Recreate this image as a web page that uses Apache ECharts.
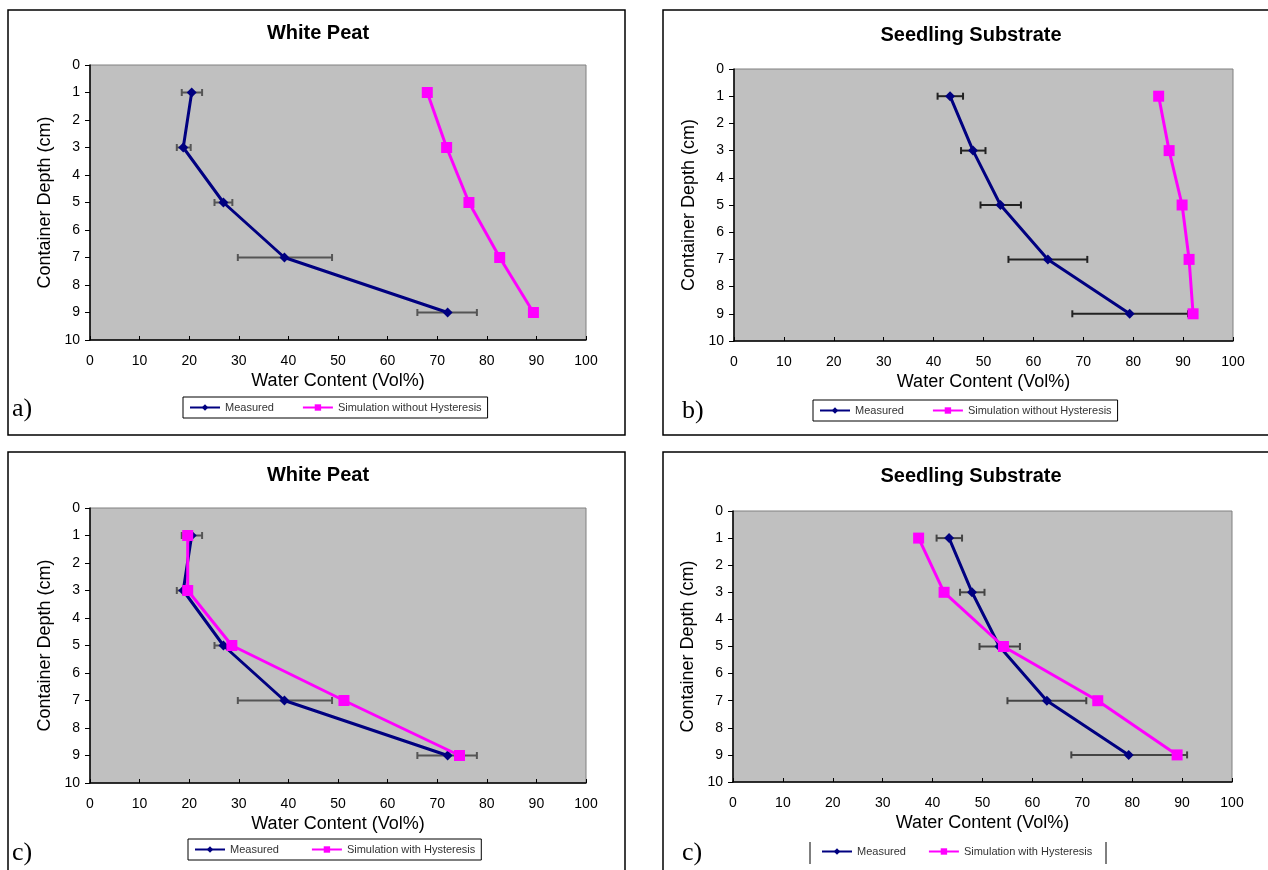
<!DOCTYPE html>
<html>
<head>
<meta charset="utf-8">
<script src="https://cdn.jsdelivr.net/npm/echarts@6/dist/echarts.min.js"></script>
<style>
html,body{margin:0;padding:0;background:#fff;}
#chart{width:1268px;height:870px;}
</style>
</head>
<body>
<div id="chart"></div>
<script>
// ---- data ----
const depths = [1, 3, 5, 7, 9];
const xTicks = [0, 10, 20, 30, 40, 50, 60, 70, 80, 90, 100];
const yTicks = [0, 1, 2, 3, 4, 5, 6, 7, 8, 9, 10];

const peatMeasured = [20.5, 18.8, 26.9, 39.2, 72.1];
const peatErrLow   = [18.5, 17.5, 25.1, 29.8, 66.0];
const peatErrHigh  = [22.6, 20.3, 28.7, 48.8, 78.0];
const peatSimNoHyst = [68.0, 71.9, 76.4, 82.6, 89.4];
const peatSimHyst   = [19.7, 19.7, 28.6, 51.2, 74.5];

const seedMeasured = [43.3, 47.9, 53.4, 62.9, 79.3];
const seedErrLow   = [40.8, 45.5, 49.4, 55.0, 67.8];
const seedErrHigh  = [45.9, 50.4, 57.5, 70.8, 91.0];
const seedSimNoHyst = [85.1, 87.2, 89.8, 91.2, 92.0];
const seedSimHyst   = [37.2, 42.3, 54.2, 73.1, 89.0];

const titles = ['White Peat', 'Seedling Substrate', 'White Peat', 'Seedling Substrate'];
const panelLabels = ['a)', 'b)', 'c)', 'c)'];
const nameMeasured = 'Measured';
const nameNoHyst = 'Simulation without Hysteresis';
const nameHyst = 'Simulation with Hysteresis';
const xName = 'Water Content (Vol%)';
const yName = 'Container Depth (cm)';

// ---- layout ----
const grids = [
  {left: 90, top: 65, width: 496, height: 275},
  {left: 734, top: 69, width: 499, height: 272},
  {left: 90, top: 508, width: 496, height: 275},
  {left: 733, top: 511, width: 499, height: 271}
];
const titlePos = [[313, 18], [966, 20], [313, 460], [966, 461]];

const pairs = (xs) => xs.map((v, i) => [v, depths[i]]);
const errData = (lo, hi) => lo.map((v, i) => [v, hi[i], depths[i]]);

function errSeries(idx, lo, hi, color) {
  return {
    type: 'custom',
    xAxisIndex: idx, yAxisIndex: idx,
    data: errData(lo, hi),
    encode: {x: [0, 1], y: 2},
    z: 2,
    silent: true,
    renderItem: function (params, api) {
      const y = api.value(2);
      const p1 = api.coord([api.value(0), y]);
      const p2 = api.coord([api.value(1), y]);
      const h = 3.5;
      const st = {stroke: color, lineWidth: 2};
      return {
        type: 'group',
        children: [
          {type: 'line', shape: {x1: p1[0], y1: p1[1], x2: p2[0], y2: p2[1]}, style: st},
          {type: 'line', shape: {x1: p1[0], y1: p1[1] - h, x2: p1[0], y2: p1[1] + h}, style: st},
          {type: 'line', shape: {x1: p2[0], y1: p2[1] - h, x2: p2[0], y2: p2[1] + h}, style: st}
        ]
      };
    }
  };
}
function measSeries(idx, vals) {
  return {
    name: nameMeasured, type: 'line', xAxisIndex: idx, yAxisIndex: idx,
    data: pairs(vals), symbol: 'diamond', symbolSize: 10,
    lineStyle: {color: '#000080', width: 3}, itemStyle: {color: '#000080'},
    z: 3, animation: false
  };
}
function simSeries(idx, name, vals) {
  return {
    name: name, type: 'line', xAxisIndex: idx, yAxisIndex: idx,
    data: pairs(vals), symbol: 'rect', symbolSize: 11,
    lineStyle: {color: '#FF00FF', width: 3}, itemStyle: {color: '#FF00FF'},
    z: 4, animation: false
  };
}

const font = '"Liberation Sans", Arial, sans-serif';

const xAxes = grids.map((g, i) => ({
  type: 'value', gridIndex: i, min: 0, max: 100, interval: 10, position: 'bottom',
  name: xName, nameLocation: 'middle', nameGap: 32,
  nameTextStyle: {fontFamily: font, fontSize: 18, color: '#000'},
  axisLine: {show: true, onZero: false, lineStyle: {color: '#000', width: 1.5}},
  axisTick: {show: true, inside: true, length: 4, lineStyle: {color: '#000'}},
  axisLabel: {fontFamily: font, fontSize: 14, color: '#000', margin: 14},
  splitLine: {show: false}
}));
const yAxes = grids.map((g, i) => ({
  type: 'value', gridIndex: i, min: 0, max: 10, interval: 1, inverse: true, position: 'left',
  name: yName, nameLocation: 'middle', nameGap: 36, nameRotate: 90,
  nameTextStyle: {fontFamily: font, fontSize: 18, color: '#000'},
  axisLine: {show: true, onZero: false, lineStyle: {color: '#000', width: 1.5}},
  axisTick: {show: true, length: 5, lineStyle: {color: '#000'}},
  axisLabel: {fontFamily: font, fontSize: 14, color: '#000', margin: 10},
  splitLine: {show: false}
}));

const legendBase = {
  orient: 'horizontal', itemWidth: 30, itemHeight: 8, itemGap: 28,
  textStyle: {fontFamily: font, fontSize: 11, color: '#333'},
  padding: [5, 6], borderColor: '#000', borderWidth: 1, selectedMode: false
};

const option = {
  backgroundColor: '#ffffff',
  animation: false,
  title: titles.map((t, i) => ({
    text: t, left: titlePos[i][0], top: titlePos[i][1], textAlign: 'center',
    textStyle: {fontFamily: font, fontSize: 20, fontWeight: 'bold', color: '#000'}
  })),
  grid: grids.map(g => Object.assign({show: true, backgroundColor: '#C0C0C0', borderColor: '#808080', borderWidth: 1}, g)),
  xAxis: xAxes,
  yAxis: yAxes,
  legend: [
    Object.assign({}, legendBase, {data: [nameMeasured, nameNoHyst], left: 183, top: 397}),
    Object.assign({}, legendBase, {data: [nameMeasured, nameNoHyst], left: 813, top: 400}),
    Object.assign({}, legendBase, {data: [nameMeasured, nameHyst], left: 188, top: 839, itemGap: 32}),
    Object.assign({}, legendBase, {data: [nameMeasured, nameHyst], left: 815, top: 841, itemGap: 22, borderWidth: 0})
  ],
  graphic: [
    {type: 'rect', shape: {x: 8, y: 10, width: 617, height: 425}, style: {fill: 'none', stroke: '#000', lineWidth: 1.5}, z: -1},
    {type: 'rect', shape: {x: 663, y: 10, width: 630, height: 425}, style: {fill: 'none', stroke: '#000', lineWidth: 1.5}, z: -1},
    {type: 'rect', shape: {x: 8, y: 452, width: 617, height: 440}, style: {fill: 'none', stroke: '#000', lineWidth: 1.5}, z: -1},
    {type: 'rect', shape: {x: 663, y: 452, width: 630, height: 440}, style: {fill: 'none', stroke: '#000', lineWidth: 1.5}, z: -1},
    {type: 'line', shape: {x1: 810, y1: 842, x2: 810, y2: 864}, style: {stroke: '#000', lineWidth: 1}},
    {type: 'line', shape: {x1: 1106, y1: 842, x2: 1106, y2: 864}, style: {stroke: '#000', lineWidth: 1}},
    {type: 'text', left: 12, top: 396, style: {text: panelLabels[0], font: '26px "Liberation Serif", "Times New Roman", serif', fill: '#000'}},
    {type: 'text', left: 682, top: 398, style: {text: panelLabels[1], font: '26px "Liberation Serif", "Times New Roman", serif', fill: '#000'}},
    {type: 'text', left: 12, top: 840, style: {text: panelLabels[2], font: '26px "Liberation Serif", "Times New Roman", serif', fill: '#000'}},
    {type: 'text', left: 682, top: 840, style: {text: panelLabels[3], font: '26px "Liberation Serif", "Times New Roman", serif', fill: '#000'}}
  ],
  series: [
    errSeries(0, peatErrLow, peatErrHigh, '#555555'),
    measSeries(0, peatMeasured),
    simSeries(0, nameNoHyst, peatSimNoHyst),

    errSeries(1, seedErrLow, seedErrHigh, '#222222'),
    measSeries(1, seedMeasured),
    simSeries(1, nameNoHyst, seedSimNoHyst),

    errSeries(2, peatErrLow, peatErrHigh, '#555555'),
    measSeries(2, peatMeasured),
    simSeries(2, nameHyst, peatSimHyst),

    errSeries(3, seedErrLow, seedErrHigh, '#444444'),
    measSeries(3, seedMeasured),
    simSeries(3, nameHyst, seedSimHyst)
  ]
};

const chart = echarts.init(document.getElementById('chart'), null, {renderer: 'canvas'});
chart.setOption(option);
</script>
</body>
</html>
